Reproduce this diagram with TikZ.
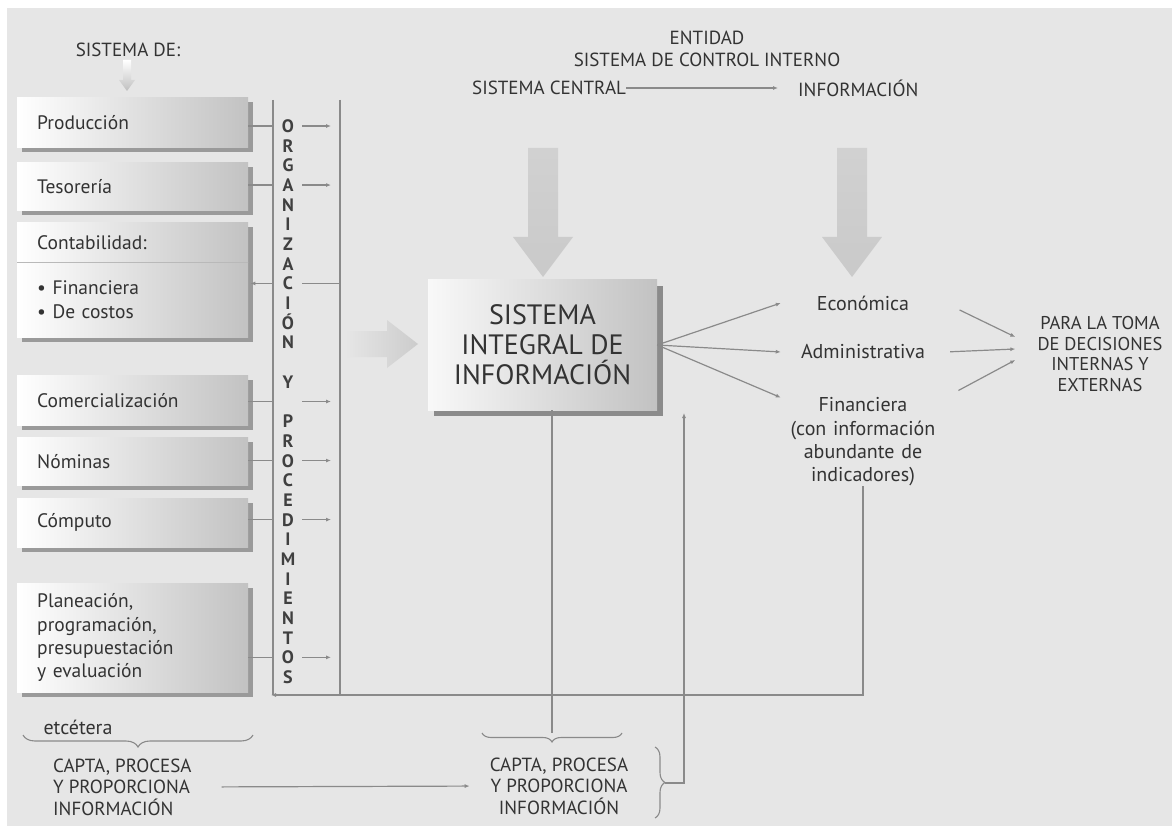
\documentclass[tikz,border=0pt]{standalone}
\usepackage{fontspec}
\setmainfont{PT Sans}
\usetikzlibrary{positioning,arrows.meta,shadows,decorations.pathreplacing}

\definecolor{bggray}{HTML}{E6E6E6}
\definecolor{linegray}{HTML}{8A8A8A}
\definecolor{textgray}{HTML}{333333}
\definecolor{boxgray}{HTML}{C2C2C2}
\definecolor{shadowgray}{HTML}{9A9A9A}

\tikzset{
  conn/.style={draw=linegray, line width=1.2pt},
  arr/.style={-{Latex[length=5pt,width=4pt]}},
  curly/.style={draw=linegray, line width=1.1pt, decorate, decoration={brace, amplitude=#1}},
  sysunit/.style={anchor=north west, left color=white, right color=boxgray,
    text width=191pt, inner xsep=20pt, inner ysep=0pt, align=left, text=textgray,
    font=\fontsize{19.5}{23.3}\selectfont,
    drop shadow={shadow xshift=5pt, shadow yshift=-5pt, fill=shadowgray, opacity=1}},
  bigbox/.style={left color=white!95!gray, right color=boxgray, align=center, text=textgray,
    minimum width=229pt, minimum height=130pt, font=\fontsize{28}{30}\selectfont,
    drop shadow={shadow xshift=6pt, shadow yshift=-6pt, fill=shadowgray!90!black, opacity=1}},
  capslbl/.style={inner sep=0pt, align=center, text=textgray, font=\fontsize{19}{21.5}\selectfont},
  bodytxt/.style={inner sep=0pt, align=center, text=textgray, font=\fontsize{20}{23.3}\selectfont},
  rescol/.style={bodytxt, text width=164pt},
  spine/.style={anchor=base, inner sep=0pt, text height=13pt, text depth=0pt,
    text=black!75, font=\fontsize{18}{18}\selectfont\bfseries}
}

\begin{document}
\begin{tikzpicture}[x=1pt, y=-1pt]
  \useasboundingbox (0,0) rectangle (1172,826);
  \fill[white] (0,0) rectangle (1172,826);
  \fill[bggray] (7,8) rectangle (1172,826);

  % shaded arrows
  \shade[top color=white, bottom color=gray!50]
    (123,60) -- (131,60) -- (131,80) -- (135,80) -- (127,91) -- (119,80) -- (123,80) -- cycle;
  \foreach \cx in {543,852}
    \shade[top color=gray!36, middle color=white, bottom color=gray!42]
      ({\cx-15},148) -- ({\cx+15},148) -- ({\cx+15},237) -- ({\cx+30},237)
      -- (\cx,277) -- ({\cx-30},237) -- ({\cx-15},237) -- cycle;
  \shade[left color=bggray, middle color=white, right color=gray!40]
    (345,331) -- (387,331) -- (387,320) -- (418,344) -- (387,368) -- (387,357) -- (345,357) -- cycle;

  % systems
  \node[capslbl] (sisde) at (128,50) {SISTEMA DE:};
  \node[sysunit, minimum height=50pt] (prod) at (17,97) {Producción};
  \node[sysunit, minimum height=48pt] (teso) at (17,162) {Tesorería};
  \node[sysunit, minimum height=40pt] (contab) at (17,222) {Contabilidad:};
  \node[sysunit, minimum height=75pt] (contabsub) at (17,262) {• Financiera\\• De costos};
  \draw[linegray!60] (contab.south west) -- (contab.south east);
  \node[sysunit, minimum height=50pt] (comer) at (17,375) {Comercialización};
  \node[sysunit, minimum height=48pt] (nomi) at (17,437) {Nóminas};
  \node[sysunit, minimum height=49pt] (compu) at (17,498) {Cómputo};
  \node[sysunit, minimum height=109pt] (plan) at (17,583) {Planeación,\\programación,\\presupuestación\\y evaluación};

  \node[bodytxt] (etc) at (78,727) {etcétera};
  \node[capslbl, align=left, anchor=west] (captaL) at (53,787) {CAPTA, PROCESA\\Y PROPORCIONA\\INFORMACIÓN};

  % organizacion y procedimientos
  \coordinate (orgtop) at (273,100);
  \coordinate (orgbot) at (271,695);
  \coordinate (proctop) at (340,100);
  \coordinate (procbot) at (340,695);
  \foreach \ch [count=\i] in {O,R,G,A,N,I,Z,A,C,I,Ó,N,{},Y,{},P,R,O,C,E,D,I,M,I,E,N,T,O,S}
    \node[spine] (l\i) at (288,{126+(\i-1)*19.68+6.5}) {\ch};

  % centre
  \node[bigbox] (sig) at (542.5,345) {SISTEMA\\INTEGRAL DE\\INFORMACIÓN};
  \node[capslbl] (entidad) at (707,49) {ENTIDAD\\SISTEMA DE CONTROL INTERNO};
  \node[capslbl, anchor=west] (central) at (472,88) {SISTEMA CENTRAL};
  \node[capslbl, anchor=west] (info) at (798,88) {INFORMACIÓN};
  \node[capslbl] (captaC) at (559,786) {CAPTA, PROCESA\\Y PROPORCIONA\\INFORMACIÓN};

  % results
  \node[rescol] (eco) at (863,303) {Económica};
  \node[rescol] (adm) at (863,352) {Administrativa};
  \node[rescol] (fin) at (863,442) {Financiera\\(con información\\abundante de\\indicadores)};
  \node[capslbl, inner xsep=22pt, font=\fontsize{18.5}{20.7}\selectfont] (toma) at (1100,354)
    {PARA LA TOMA\\DE DECISIONES\\INTERNAS Y\\EXTERNAS};

  % connectors
  \draw[conn] (orgtop) -- (orgtop |- procbot);
  \draw[conn] (proctop) -- (procbot);
  \foreach \i/\u in {1/prod,4/teso,15/comer,18/nomi,21/compu,28/plan} {
    \draw[conn] (\u.east |- l\i) -- (orgtop |- l\i);
    \draw[conn,arr] ([xshift=14pt]l\i.center) -- ([xshift=43pt]l\i.center);
  }
  \draw[conn,arr,shorten >=2pt] (orgtop |- l9) -- (contabsub.east |- l9);
  \draw[conn] (proctop |- l9) -- ([xshift=14pt]l9.center);

  \draw[conn,arr,shorten >=20pt] (central.east) -- (info.west);
  \draw[conn,arr] (sig.east) -- (eco.west);
  \draw[conn,arr] (sig.east) -- (adm.west);
  \draw[conn,arr] (sig.east) -- (fin.north west);
  \draw[conn,arr,shorten <=16pt] (eco.east) -- ([yshift=17pt]toma.west);
  \draw[conn,arr,shorten <=5pt] (adm.east) -- ([yshift=5pt]toma.west);
  \draw[conn,arr,shorten <=15pt] (fin.north east) -- ([yshift=-6pt]toma.west);

  \draw[conn,arr] (fin.south) |- (orgbot);

  \coordinate (midbr) at (552,733);
  \draw[conn] (sig.south -| midbr) -- (midbr);
  \draw[curly=9pt, decoration={mirror}] (482,733) -- (622,733);
  \draw[curly=10pt] (655,747) -- (655,818);
  \coordinate (rbtip) at (665,783);
  \coordinate (uptip) at (684,413);
  \draw[conn,arr] (rbtip) -| (uptip);

  \draw[curly=12pt, decoration={mirror}] (23,735) -- (253,735);
  \draw[conn,arr,shorten <=30pt,shorten >=20pt] (captaL.east) -- (captaC.west);
\end{tikzpicture}
\end{document}
